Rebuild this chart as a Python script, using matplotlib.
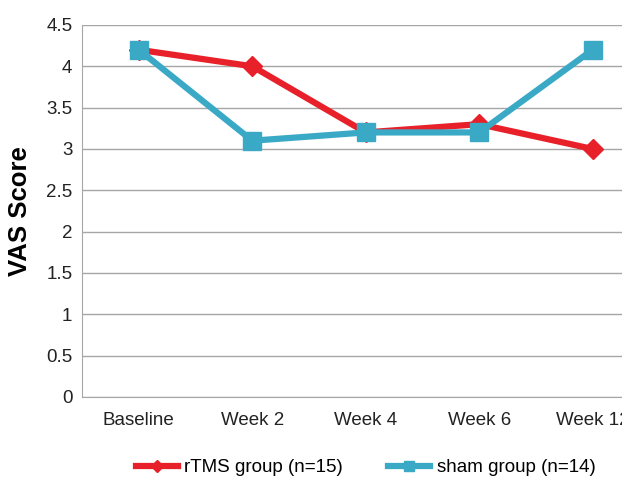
import matplotlib
matplotlib.use("Agg")
import matplotlib.pyplot as plt

plt.rcParams['font.family'] = ['Liberation Sans', 'DejaVu Sans']

categories = ["Baseline", "Week 2", "Week 4", "Week 6", "Week 12"]
rtms_scores = [4.2, 4.0, 3.2, 3.3, 3.0]
sham_scores = [4.2, 3.1, 3.2, 3.2, 4.2]
yticks = [0, 0.5, 1, 1.5, 2, 2.5, 3, 3.5, 4, 4.5]

fig = plt.figure(figsize=(6.22, 4.8), dpi=100)
ax = fig.add_axes([0.132, 0.173, 0.912, 0.775])

x = list(range(len(categories)))
ax.plot(x, rtms_scores, color='#E8202A', lw=4.5, marker='D', ms=10,
        label='rTMS group (n=15)', zorder=3)
ax.plot(x, sham_scores, color='#3AA9C6', lw=4.5, marker='s', ms=13,
        label='sham group (n=14)', zorder=4)

ax.set_xlim(-0.5, 4.5)
ax.set_ylim(0, 4.5)
ax.set_yticks(yticks)
ax.set_yticklabels([f"{t:g}" for t in yticks])
ax.set_xticks(x)
ax.set_xticklabels(categories)
ax.tick_params(axis='y', length=0, labelsize=13.5, colors='#222222', pad=7)
ax.tick_params(axis='x', length=0, labelsize=13.5, colors='#222222', pad=11)
ax.grid(axis='y', color='#A6A6A6', lw=1)
ax.set_axisbelow(True)
for s in ['top', 'right']:
    ax.spines[s].set_visible(False)
ax.spines['left'].set_color('#A6A6A6')
ax.spines['bottom'].set_color('#A6A6A6')
ax.set_ylabel('VAS Score', fontsize=18.5, fontweight='bold', labelpad=10)

ax.legend(loc='center', bbox_to_anchor=(0.5, -0.19), ncol=2, frameon=False,
          fontsize=13.5, handlelength=2.25, handletextpad=0.35,
          columnspacing=2.4, markerscale=0.6)

fig.savefig('out.png', dpi=100)
